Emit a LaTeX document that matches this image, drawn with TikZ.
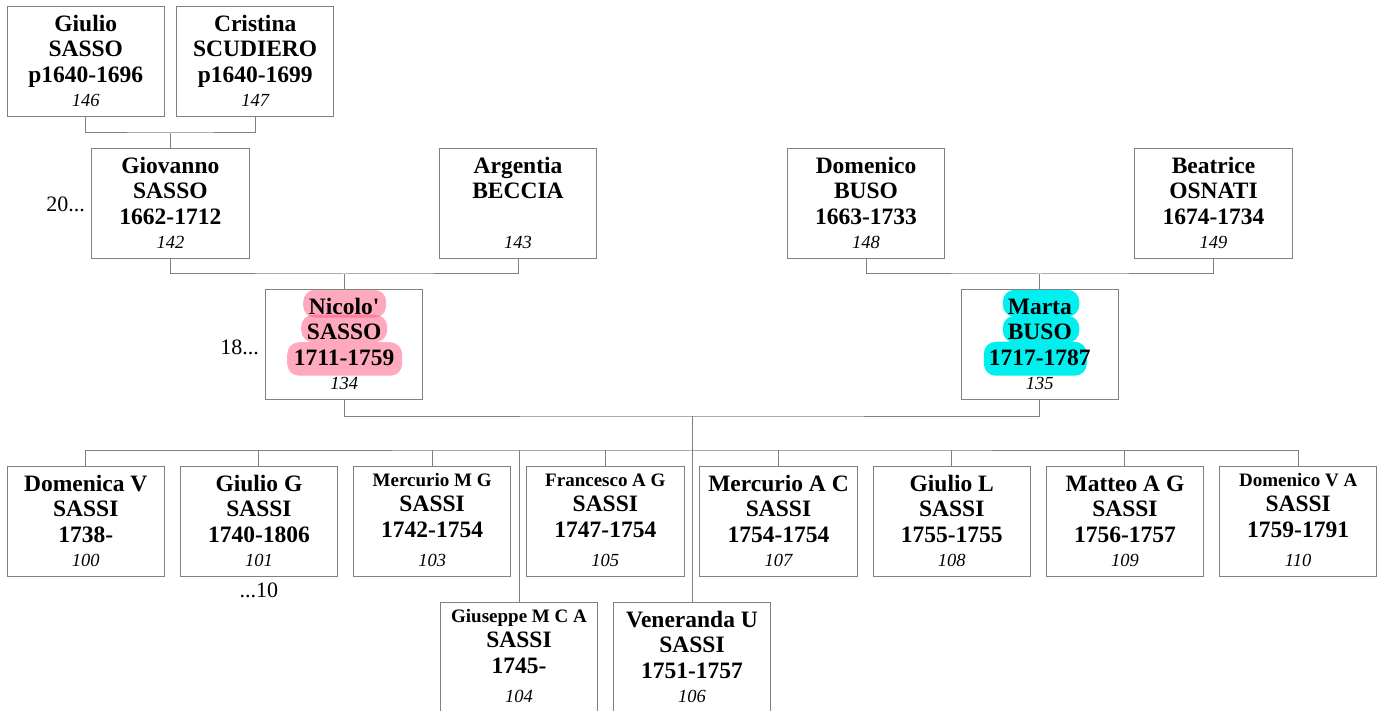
\documentclass[tikz,border=0pt]{standalone}
\usepackage{fontspec}
\newfontfamily\tnr{Liberation Serif}
\usetikzlibrary{calc,backgrounds}
\definecolor{linegray}{RGB}{128,128,128}
\definecolor{hlpink}{RGB}{255,85,129}
\definecolor{hlcyan}{RGB}{0,240,240}
\newcommand\nmf{\tnr\bfseries\fontsize{23.5}{26}\selectfont}
\newcommand\smf{\tnr\bfseries\fontsize{19}{22}\selectfont}
\newcommand\nrf{\tnr\itshape\fontsize{18.5}{22}\selectfont}
\newcommand\gnf{\tnr\fontsize{22}{24}\selectfont}
\newcommand\cardline[1]{\hbox to 157.5pt{\hss\smash{#1}\hss}}
\newcommand\cardbody[8]{\vbox to 110pt{\offinterlineskip\vskip#1\cardline{#5}\vskip#2\cardline{#6}\vskip#3\cardline{#7}\vskip#4\cardline{#8}\vss}}
\newcommand\cardN[4]{\cardbody{25pt}{25pt}{26pt}{24pt}{\nmf #1}{\nmf #2}{\nmf #3}{\nrf #4}}
\newcommand\cardS[4]{\cardbody{20pt}{25pt}{26pt}{29pt}{\smf #1}{\nmf #2}{\nmf #3}{\nrf #4}}
\tikzset{
  card/.style={draw=linegray, line width=1pt, inner sep=0pt, outer sep=0pt},
  conn/.style={draw=linegray, line width=1pt},
  gen/.style={font=\gnf, inner sep=0pt},
  pinkblob/.style={fill=hlpink, fill opacity=0.5, rounded corners=12pt},
  cyanblob/.style={fill=hlcyan, rounded corners=12pt}
}
\begin{document}
\begin{tikzpicture}[x=1pt,y=1pt]
\useasboundingbox (0,0) rectangle (1382,-711);
% generation 0
\node[card] (p146) at (85.75,-62) {\cardN{Giulio}{SASSO}{p1640-1696}{146}};
\node[card] (p147) at (255.2,-62) {\cardN{Cristina}{SCUDIERO}{p1640-1699}{147}};
% generation 1
\node[card] (p142) at (170.4,-203.5) {\cardN{Giovanno}{SASSO}{1662-1712}{142}};
\node[card] (p143) at (518,-203.5) {\cardN{Argentia}{BECCIA}{}{143}};
\node[card] (p148) at (866,-203.5) {\cardN{Domenico}{BUSO}{1663-1733}{148}};
\node[card] (p149) at (1213.5,-203.5) {\cardN{Beatrice}{OSNATI}{1674-1734}{149}};
% generation 2
\node[card] (p134) at (344.2,-344.75) {\cardN{Nicolo'}{SASSO}{1711-1759}{134}};
\node[card] (p135) at (1039.8,-344.75) {\cardN{Marta}{BUSO}{1717-1787}{135}};
% children
\node[card] (p100) at (85.75,-521.5) {\cardN{Domenica V}{SASSI}{1738-}{100}};
\node[card] (p101) at (258.95,-521.5) {\cardN{Giulio G}{SASSI}{1740-1806}{101}};
\node[card] (p103) at (432.15,-521.5) {\cardS{Mercurio M G}{SASSI}{1742-1754}{103}};
\node[card] (p105) at (605.35,-521.5) {\cardS{Francesco A G}{SASSI}{1747-1754}{105}};
\node[card] (p107) at (778.55,-521.5) {\cardN{Mercurio A C}{SASSI}{1754-1754}{107}};
\node[card] (p108) at (951.75,-521.5) {\cardN{Giulio L}{SASSI}{1755-1755}{108}};
\node[card] (p109) at (1124.95,-521.5) {\cardN{Matteo A G}{SASSI}{1756-1757}{109}};
\node[card] (p110) at (1298.15,-521.5) {\cardS{Domenico V A}{SASSI}{1759-1791}{110}};
\node[card] (p104) at (519,-657) {\cardS{Giuseppe M C A}{SASSI}{1745-}{104}};
\node[card] (p106) at (692,-657) {\cardN{Veneranda U}{SASSI}{1751-1757}{106}};
% generation labels
\node[gen, anchor=base east] (g20) at ($(p142.west)+(-6.5,-8.5)$) {20...};
\node[gen, anchor=base east] (g18) at ($(p134.west)+(-6.5,-9.5)$) {18...};
\node[gen, anchor=base] (g10) at ($(p101.south)+(0,-21)$) {...10};
% junctions
\coordinate (j1) at (170.4,-133);
\coordinate (j2) at (344.2,-274);
\coordinate (j3) at (1039.8,-274);
\coordinate (j4) at (692,-416);
\coordinate (bus) at (692,-450);
% connectors
\draw[conn] (p146.south) |- (j1) -| (p147.south);
\draw[conn] (j1) -- (p142.north);
\draw[conn] (p142.south) |- (j2) -| (p143.south);
\draw[conn] (j2) -- (p134.north);
\draw[conn] (p148.south) |- (j3) -| (p149.south);
\draw[conn] (j3) -- (p135.north);
\draw[conn] (p134.south) |- (j4) -| (p135.south);
\draw[conn] (j4) -- (p106.north);
\draw[conn] (p100.north) |- (bus) -| (p110.north);
\foreach \c in {p101,p103,p105,p107,p108,p109,p104}
  \draw[conn] (\c.north) -- (\c.north |- bus);
% highlights
\begin{scope}[on background layer]
\fill[white] (0,0) rectangle (1382,-711);
\fill[pinkblob] ($(p134.north)+(-41,0)$) rectangle ($(p134.north)+(42,-28)$);
\fill[pinkblob] ($(p134.north)+(-43,-25)$) rectangle ($(p134.north)+(43,-52.5)$);
\fill[pinkblob] ($(p134.north)+(-57,-52.5)$) rectangle ($(p134.north)+(58,-86)$);
\fill[cyanblob] ($(p135.north)+(-37,0)$) rectangle ($(p135.north)+(39.5,-27)$);
\fill[cyanblob] ($(p135.north)+(-37,-26)$) rectangle ($(p135.north)+(39.5,-53)$);
\fill[cyanblob] ($(p135.north)+(-56,-52)$) rectangle ($(p135.north)+(47,-86)$);
\end{scope}
\end{tikzpicture}
\end{document}
